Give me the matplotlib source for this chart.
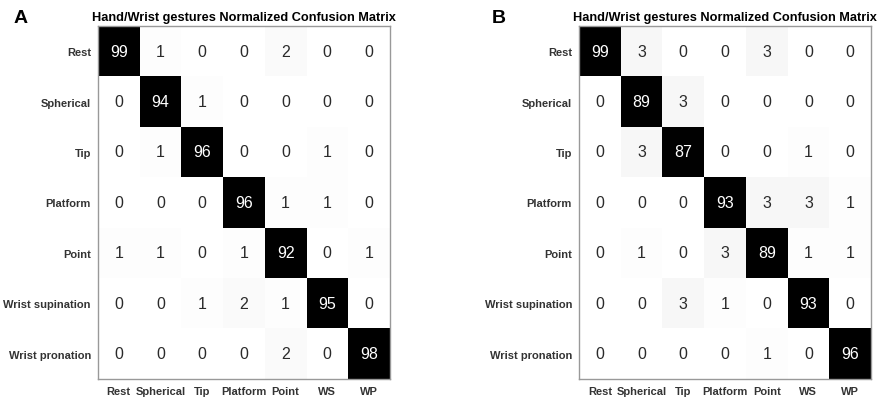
import numpy as np
import matplotlib
matplotlib.use('Agg')
import matplotlib.pyplot as plt

plt.rcParams['font.family'] = ['Liberation Sans', 'DejaVu Sans']

row_labels = ['Rest', 'Spherical', 'Tip', 'Platform', 'Point', 'Wrist supination', 'Wrist pronation']
col_labels = ['Rest', 'Spherical', 'Tip', 'Platform', 'Point', 'WS', 'WP']
title = 'Hand/Wrist gestures Normalized Confusion Matrix'

cm_a = [[99, 1, 0, 0, 2, 0, 0],
        [0, 94, 1, 0, 0, 0, 0],
        [0, 1, 96, 0, 0, 1, 0],
        [0, 0, 0, 96, 1, 1, 0],
        [1, 1, 0, 1, 92, 0, 1],
        [0, 0, 1, 2, 1, 95, 0],
        [0, 0, 0, 0, 2, 0, 98]]

cm_b = [[99, 3, 0, 0, 3, 0, 0],
        [0, 89, 3, 0, 0, 0, 0],
        [0, 3, 87, 0, 0, 1, 0],
        [0, 0, 0, 93, 3, 3, 1],
        [0, 1, 0, 3, 89, 1, 1],
        [0, 0, 3, 1, 0, 93, 0],
        [0, 0, 0, 0, 1, 0, 96]]

panels = [('A', cm_a, 0.111, 0.015), ('B', cm_b, 0.6565, 0.557)]


def draw_cm(ax, cm):
    cm = np.array(cm)
    ax.imshow(cm, cmap='gray_r', vmin=0, vmax=88, aspect='auto')
    for i in range(cm.shape[0]):
        for j in range(cm.shape[1]):
            color = 'white' if cm[i, j] > 50 else '#2a2a2a'
            ax.text(j, i, str(cm[i, j]), ha='center', va='center', fontsize=11.5, color=color)
    ax.set_xticks(range(len(col_labels)))
    ax.set_xticklabels(col_labels, fontsize=8, fontweight='bold', color='#333333')
    ax.set_yticks(range(len(row_labels)))
    ax.set_yticklabels(row_labels, fontsize=8, fontweight='bold', color='#333333')
    ax.tick_params(length=0, pad=5)
    for s in ax.spines.values():
        s.set_color('#999999')
        s.set_linewidth(1)
    ax.set_title(title, fontsize=9.2, fontweight='bold', pad=4)


fig = plt.figure(figsize=(8.82, 4.02), dpi=100)
for letter, cm, left, lx in panels:
    ax = fig.add_axes([left, 0.055, 0.331, 0.878])
    draw_cm(ax, cm)
    fig.text(lx, 0.955, letter, fontsize=14, fontweight='bold', va='center')

fig.savefig('out.png', dpi=100)
